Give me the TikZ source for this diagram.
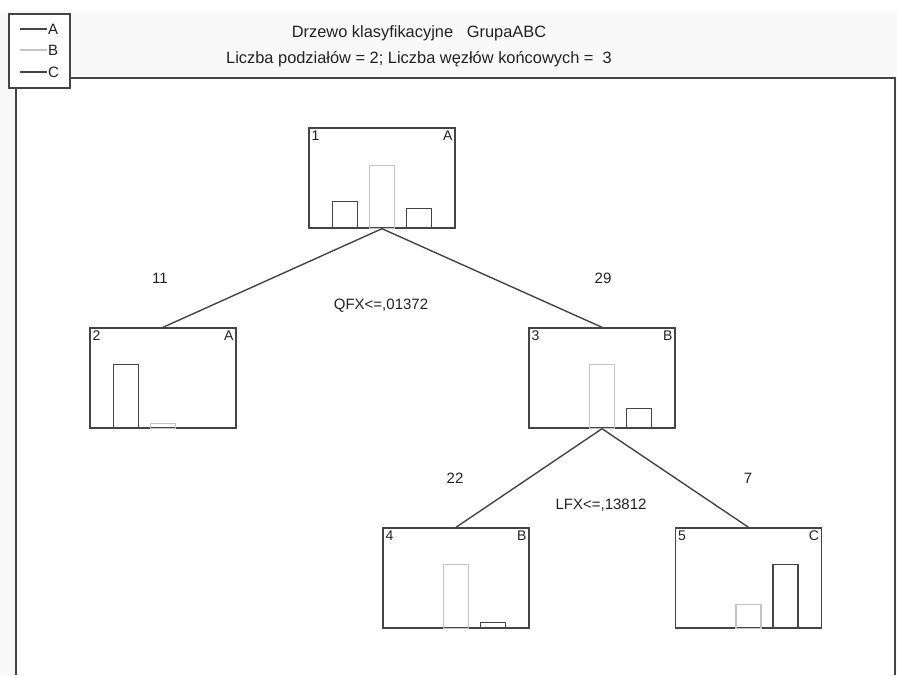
\documentclass[tikz,border=0pt]{standalone}
\usepackage{fontspec}
\setmainfont{Liberation Sans}
\usetikzlibrary{positioning, calc}
\definecolor{inkdark}{HTML}{454545}
\definecolor{inklight}{HTML}{C4C4C4}
\definecolor{inktext}{HTML}{222222}
\definecolor{paper}{HTML}{F9F9F9}

% three class bars standing on the bottom edge of a tree node
\newcommand{\classbars}[4]{%
  \foreach \off/\h/\col in {24/#2/inkdark, 61/#3/inklight, 98/#4/inkdark}{%
    \ifdim \h pt>0pt
      \draw[bar, draw=\col] ($(#1.south west)+(\off,0)$) rectangle ++(25,-\h);
    \fi}}

\begin{document}
\begin{tikzpicture}[x=1pt, y=-1pt,
    treebox/.style={draw=inkdark, line width=1.4pt, minimum width=146pt,
      minimum height=100pt, inner sep=0pt, fill=white},
    bar/.style={line width=1.4pt},
    edge/.style={draw=inkdark, line width=1.4pt},
    tag/.style={font=\fontsize{14}{16}\selectfont, text=inktext, inner sep=3pt},
    lbl/.style={font=\fontsize{15}{17}\selectfont, text=inktext, inner sep=0pt}]
    \useasboundingbox (0,0) rectangle (897,675);
    \fill[white] (0,0) rectangle (897,675);
    \fill[paper] (0,11) rectangle (897,675);
    \fill[white] (16,78) rectangle (895,675);

    % title
    \node[font=\fontsize{16.4}{20}\selectfont, text=inktext] (title) at (419,33)
      {Drzewo klasyfikacyjne\ \ \ GrupaABC};
    \node[font=\fontsize{16.4}{20}\selectfont, text=inktext, below=4pt of title] (subtitle)
      {Liczba podziałów = 2; Liczba węzłów końcowych = \ 3};

    % legend and frame
    \node[draw=inkdark, line width=1.2pt, fill=white, minimum width=61pt,
      minimum height=74pt, inner sep=0pt] (legend) at (39.5,51) {};
    \foreach \y/\name/\col in {29/A/inkdark, 50/B/inklight, 72/C/inkdark}{%
      \draw[\col, line width=1.1pt] (20,\y) -- (47,\y);
      \node[font=\fontsize{15}{17}\selectfont, text=inktext, anchor=west, inner sep=1pt]
        (leg\name) at (47,\y) {\name};}
    \draw[inkdark, line width=1.2pt] (legend.east |- 0,78) -- (895,78) -- (895,675);
    \draw[inkdark, line width=1.2pt] (16,0 |- legend.south) -- (16,675);

    % tree nodes
    \node[treebox] (n1) at (382,178) {};
    \node[treebox] (n2) at (163,378) {};
    \node[treebox] (n3) at (602,378) {};
    \node[treebox] (n4) at (456,578) {};
    \node[treebox] (n5) at (748.5,578) {};

    \foreach \n/\k/\c in {n1/1/A, n2/2/A, n3/3/B, n4/4/B, n5/5/C}{%
      \node[tag, anchor=north west] (\n num) at (\n.north west) {\k};
      \node[tag, anchor=north east] (\n cls) at (\n.north east) {\c};}

    \classbars{n1}{27}{63}{20}
    \classbars{n2}{64}{5}{0}
    \classbars{n3}{0}{64}{20}
    \classbars{n4}{0}{64}{6}
    \classbars{n5}{0}{24}{64}

    % splits
    \draw[edge] (n1.south) -- (n2.north);
    \draw[edge] (n1.south) -- (n3.north);
    \draw[edge] (n3.south) -- (n4.north);
    \draw[edge] (n3.south) -- (n5.north);

    \node[lbl] (c2) at (160,278) {11};
    \node[lbl] (c3) at (603,278) {29};
    \node[lbl] (s1) at (381,306) {QFX<=,01372};
    \node[lbl] (c4) at (455,478) {22};
    \node[lbl] (c5) at (748,478) {7};
    \node[lbl] (s3) at (601,505) {LFX<=,13812};
  \end{tikzpicture}
\end{document}
